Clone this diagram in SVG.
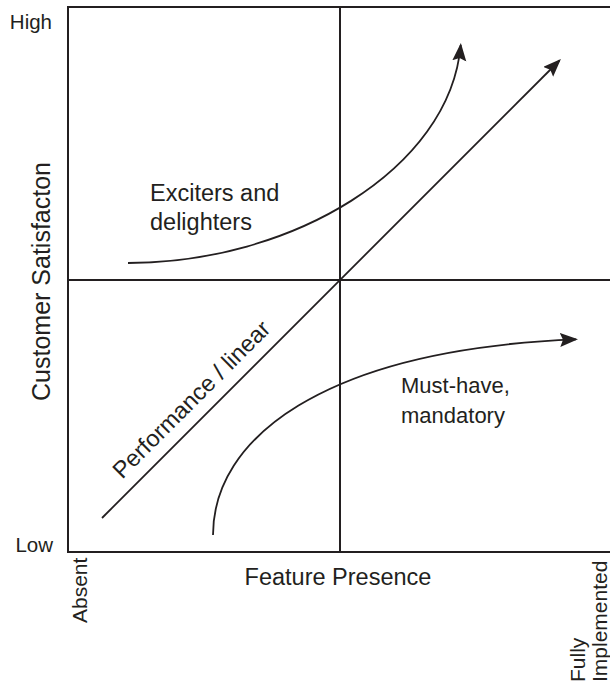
<svg xmlns="http://www.w3.org/2000/svg" width="610" height="682" viewBox="0 0 610 682">
<defs>
<style>
.t{font-family:"Liberation Sans",Arial,sans-serif;fill:#231f20}
.ax{stroke:#231f20;stroke-width:2;fill:none}
.cv{stroke:#231f20;stroke-width:1.8;fill:none}
</style>
<marker id="ah" markerUnits="userSpaceOnUse" markerWidth="20" markerHeight="16" refX="16" refY="7" orient="auto">
<path d="M0,0 L18,7 L0,14 L3,7 Z" fill="#231f20"/>
</marker>
</defs>
<rect width="610" height="682" fill="#fff"/>
<g id="frame">
<line class="ax" x1="67" y1="7" x2="610" y2="7"/>
<line class="ax" x1="68" y1="6" x2="68" y2="553"/>
<line class="ax" x1="67" y1="552" x2="610" y2="552"/>
<line class="ax" x1="68" y1="280" x2="610" y2="280"/>
<line class="ax" x1="340" y1="7" x2="340" y2="552"/>
</g>
<g id="connectors">
<path id="exciters-curve" class="cv" d="M128,263 C290,263 450,170 460.7,45" marker-end="url(#ah)"/>
<path id="linear-line" class="cv" d="M102,518 L559.5,60.5" marker-end="url(#ah)"/>
<path id="musthave-curve" class="cv" d="M213,535 C213,440 320,350 576,339.3" marker-end="url(#ah)"/>
</g>
<g id="axis-labels">
<text class="t" x="52" y="29" font-size="20.5" text-anchor="end">High</text>
<text class="t" x="53" y="552" font-size="20.5" text-anchor="end">Low</text>
<text class="t" font-size="25" transform="translate(50,401) rotate(-90)">Customer Satisfacton</text>
<text class="t" font-size="21" transform="translate(87,623) rotate(-90)">Absent</text>
<text class="t" x="338" y="585" font-size="23.5" text-anchor="middle">Feature Presence</text>
<text class="t" font-size="21" transform="translate(585,682) rotate(-90)">Fully</text>
<text class="t" font-size="21" transform="translate(607,682) rotate(-90)">Implemented</text>
</g>
<g id="exciters">
<text class="t" x="150" y="201" font-size="23.5">Exciters and</text>
<text class="t" x="150" y="230" font-size="23.5">delighters</text>
</g>
<g id="performance">
<text class="t" font-size="23.5" text-anchor="middle" transform="translate(197,405) rotate(-45)">Performance / linear</text>
</g>
<g id="musthave">
<text class="t" x="401" y="393" font-size="22">Must-have,</text>
<text class="t" x="401" y="423" font-size="22">mandatory</text>
</g>
</svg>
